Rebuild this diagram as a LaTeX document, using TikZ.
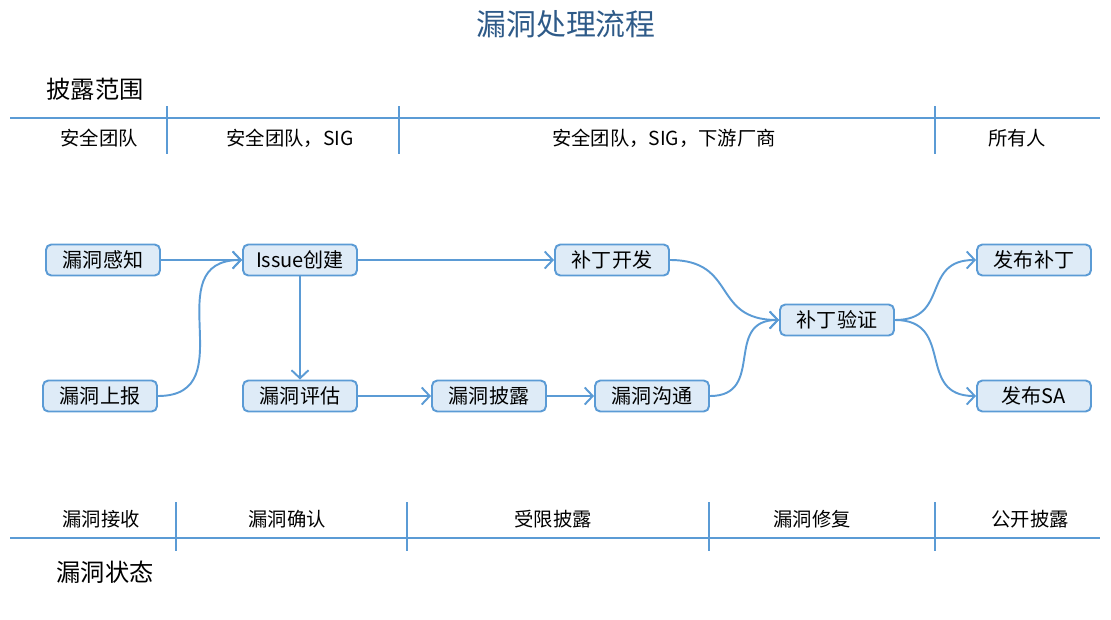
\documentclass[tikz,border=0pt]{standalone}
\usepackage{fontspec}
\setmainfont{Noto Sans CJK SC}
\usetikzlibrary{arrows.meta, positioning}

\definecolor{lineblue}{HTML}{5B9BD5}
\definecolor{boxfill}{HTML}{DEEBF7}
\definecolor{titleblue}{HTML}{2E5A88}

\begin{document}
\begin{tikzpicture}[x = 0.02cm, y = -0.02cm, > = {Straight Barb[length = 1.6mm, width = 3.4mm]},
	stepbox/.style = {draw = lineblue, fill = boxfill, line width = 1.1pt, rounded corners = 3pt, minimum width = 2.28cm, minimum height = 0.62cm, inner sep = 0pt, font = \fontsize{11.4}{13}\selectfont},
	flow/.style = {->, draw = lineblue, line width = 1.1pt},
	sbend/.style = {out = 0, in = 180, looseness = 1.4},
	axis/.style = {draw = lineblue, line width = 1.1pt},
	label/.style = {font = \fontsize{11}{13}\selectfont}]

	% Canvas

	\useasboundingbox (0, 0) rectangle (1111, 619);

	% Title + row headings

	\node [text = titleblue, font = \fontsize{17}{20}\selectfont] (title) at (566, 24) {漏洞处理流程};
	\node [font = \fontsize{13.8}{16}\selectfont] (scope) at (95, 89) {披露范围};
	\node [font = \fontsize{13.8}{16}\selectfont] (state) at (105, 572) {漏洞状态};

	% Disclosure scope axis + ticks + labels

	\draw [axis] (10, 118) -- (1100, 118);
	\foreach \x in {167, 399, 935}
		\draw [axis] (\x, 106) -- (\x, 154);

	\node [label] (scopeA) at (99, 138) {安全团队};
	\node [label] (scopeB) at (290, 138) {安全团队，SIG};
	\node [label] (scopeC) at (664, 138) {安全团队，SIG，下游厂商};
	\node [label] (scopeD) at (1017, 138) {所有人};

	% Vulnerability state axis + ticks + labels

	\draw [axis] (10, 538) -- (1100, 538);
	\foreach \x in {176, 407, 709, 935}
		\draw [axis] (\x, 502) -- (\x, 551);

	\node [label] (stateA) at (101, 519) {漏洞接收};
	\node [label] (stateB) at (287, 519) {漏洞确认};
	\node [label] (stateC) at (553, 519) {受限披露};
	\node [label] (stateD) at (812, 519) {漏洞修复};
	\node [label] (stateE) at (1030, 519) {公开披露};

	% Process steps

	\node [stepbox] (sense) at (103, 260) {漏洞感知};
	\node [stepbox] (report) at (100, 396) {漏洞上报};
	\node [stepbox] (issue) at (300, 260) {Issue创建};
	\node [stepbox] (assess) at (300, 396) {漏洞评估};
	\node [stepbox] (disclose) at (489, 396) {漏洞披露};
	\node [stepbox] (comm) at (652, 396) {漏洞沟通};
	\node [stepbox] (develop) at (612, 260) {补丁开发};
	\node [stepbox] (verify) at (837, 320) {补丁验证};
	\node [stepbox] (release) at (1034, 260) {发布补丁};
	\node [stepbox] (advisory) at (1034, 396) {发布SA};

	% Connectors

	\draw [flow] (sense) -- (issue);
	\draw [flow] (report.east) to [sbend] (issue.west);
	\draw [flow] (issue) -- (develop);
	\draw [flow] (issue) -- (assess);
	\draw [flow] (assess) -- (disclose);
	\draw [flow] (disclose) -- (comm);
	\draw [flow] (develop.east) to [sbend] (verify.west);
	\draw [flow] (comm.east) to [sbend] (verify.west);
	\draw [flow] (verify.east) to [sbend] (release.west);
	\draw [flow] (verify.east) to [sbend] (advisory.west);

\end{tikzpicture}
\end{document}
